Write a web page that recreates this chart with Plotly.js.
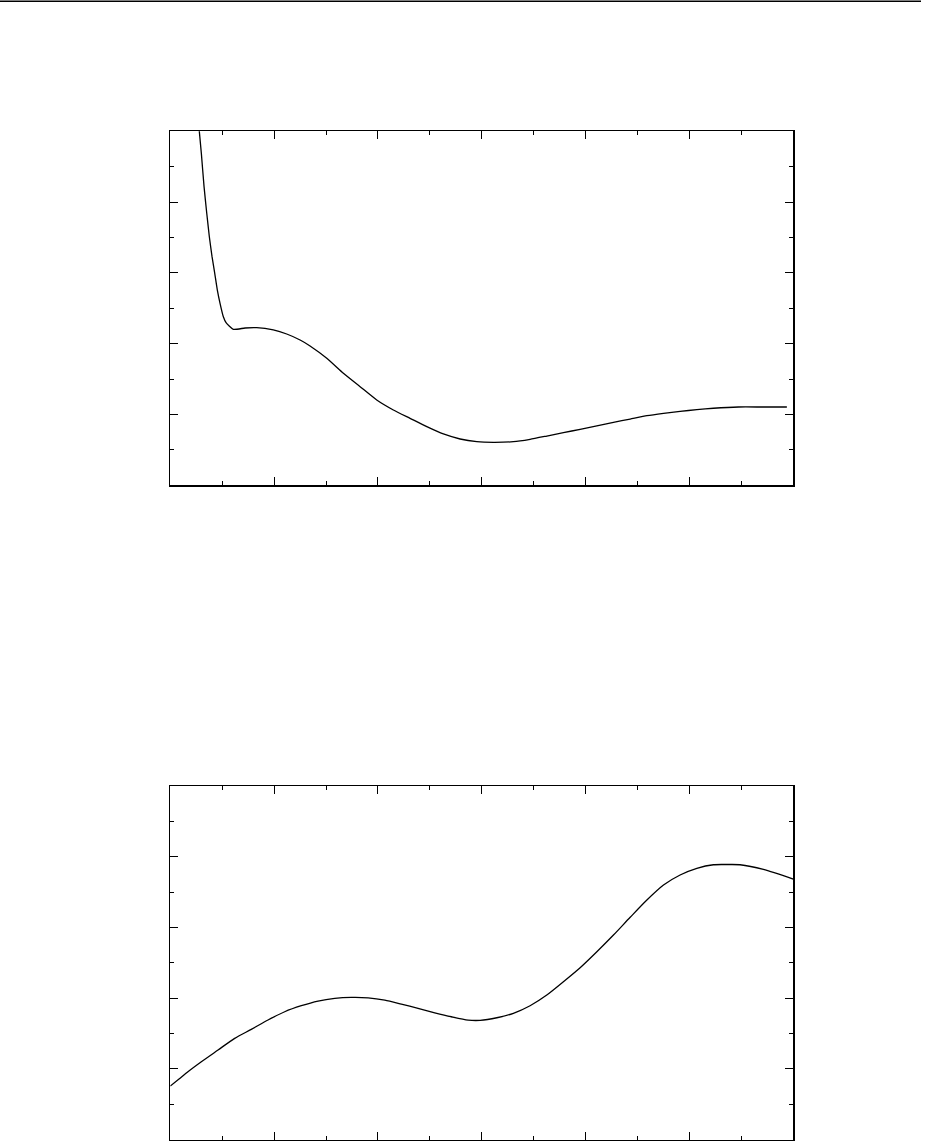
<!DOCTYPE html>
<html>
<head>
<meta charset="utf-8">
<script src="https://cdn.plot.ly/plotly-3.0.1.min.js"></script>
<style>html,body{margin:0;padding:0;background:#fff;}#plot{width:933px;height:1141px;}</style>
</head>
<body>
<div id="plot"></div>
<script>
// Top panel curve
const topX = [0.27,0.299,0.325,0.351,0.376,0.402,0.428,0.453,0.479,0.511,0.537,0.607,0.72,0.832,0.992,1.121,1.25,1.346,1.507,1.667,1.828,1.988,2.148,2.309,2.470,2.630,2.791,2.952,3.112,3.304,3.465,3.626,3.786,3.947,4.108,4.268,4.429,4.590,4.750,4.910,5.071,5.231,5.472,5.70,5.938];
const topY = [5.15,4.689,4.218,3.842,3.511,3.229,2.994,2.758,2.571,2.381,2.297,2.203,2.222,2.226,2.194,2.137,2.052,1.968,1.794,1.582,1.393,1.205,1.064,0.946,0.828,0.725,0.654,0.616,0.607,0.616,0.650,0.696,0.743,0.791,0.838,0.890,0.936,0.983,1.017,1.045,1.068,1.088,1.106,1.106,1.106];
// Bottom panel curve
const botX = [0,0.084,0.170,0.299,0.460,0.620,0.780,0.941,1.102,1.262,1.423,1.584,1.744,1.905,2.066,2.225,2.386,2.547,2.707,2.868,2.984,3.145,3.304,3.465,3.626,3.786,3.947,4.108,4.268,4.429,4.590,4.750,4.910,5.071,5.231,5.36,5.487,5.712,6.0];
const botY = [0.759,0.858,0.961,1.102,1.268,1.433,1.560,1.692,1.809,1.894,1.960,1.998,2.012,2.006,1.974,1.917,1.856,1.794,1.738,1.691,1.687,1.724,1.787,1.894,2.045,2.233,2.431,2.657,2.893,3.144,3.388,3.600,3.742,3.836,3.887,3.890,3.887,3.822,3.685];

const W = 933, H = 1141;
const xDom = [170.3 / W, 793.3 / W];
const topDom = [1 - 485.3 / H, 1 - 131.3 / H];
const botDom = [1 - 1139.7 / H, 1 - 786 / H];

function ax(range, dom, anchor) {
  return {
    domain: dom, range: range, anchor: anchor,
    showline: true, linecolor: '#000', linewidth: 1.5, mirror: 'allticks',
    ticks: 'inside', ticklen: 8, tickwidth: 1, tickcolor: '#000',
    tick0: 0, dtick: 1, showticklabels: false,
    showgrid: false, zeroline: false, fixedrange: true,
    minor: {ticks: 'inside', ticklen: 4, tickwidth: 1, tickcolor: '#000', dtick: 0.5, tick0: 0, showgrid: false}
  };
}

const data = [
  {x: topX, y: topY, xaxis: 'x', yaxis: 'y', mode: 'lines', line: {color: '#000', width: 1.3, shape: 'spline', smoothing: 0.5}, hoverinfo: 'skip'},
  {x: botX, y: botY, xaxis: 'x2', yaxis: 'y2', mode: 'lines', line: {color: '#000', width: 1.3, shape: 'spline', smoothing: 0.7}, hoverinfo: 'skip'}
];

const layout = {
  width: W, height: H,
  margin: {l: 0, r: 0, t: 0, b: 0},
  paper_bgcolor: '#fff', plot_bgcolor: '#fff',
  showlegend: false,
  xaxis: ax([0, 6], xDom, 'y'),
  yaxis: ax([0, 5], topDom, 'x'),
  xaxis2: ax([0, 6], xDom, 'y2'),
  yaxis2: ax([0, 5], botDom, 'x2'),
  shapes: [
    {type: 'line', xref: 'paper', yref: 'paper', x0: 0, x1: 921 / W, y0: 1 - 1.2 / H, y1: 1 - 1.2 / H, line: {color: '#000', width: 1.5}}
  ]
};

Plotly.newPlot('plot', data, layout, {staticPlot: true, displayModeBar: false});
</script>
</body>
</html>
